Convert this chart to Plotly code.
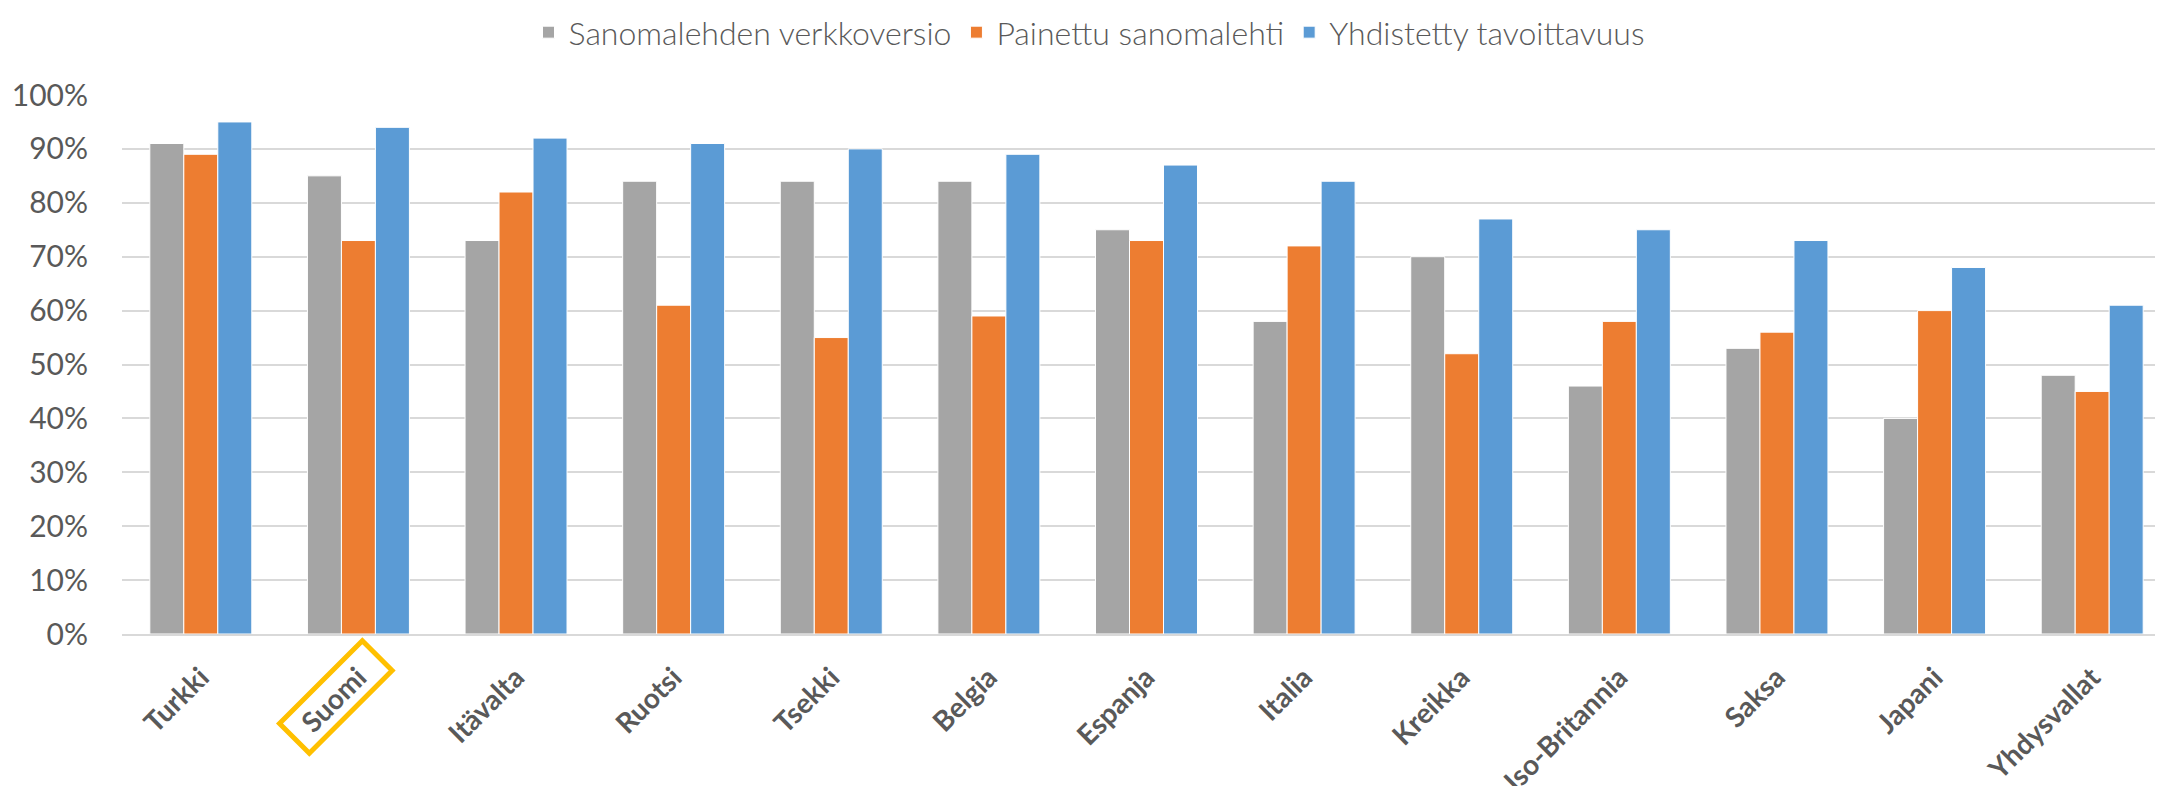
import plotly.graph_objects as go

countries = [
    "Turkki", "Suomi", "Itävalta", "Ruotsi", "Tsekki", "Belgia", "Espanja",
    "Italia", "Kreikka", "Iso-Britannia", "Saksa", "Japani", "Yhdysvallat",
]
online = [0.91, 0.85, 0.73, 0.84, 0.84, 0.84, 0.75, 0.58, 0.70, 0.46, 0.53, 0.40, 0.48]
printed = [0.89, 0.73, 0.82, 0.61, 0.55, 0.59, 0.73, 0.72, 0.52, 0.58, 0.56, 0.60, 0.45]
combined = [0.95, 0.94, 0.92, 0.91, 0.90, 0.89, 0.87, 0.84, 0.77, 0.75, 0.73, 0.68, 0.61]

series = [
    ("Sanomalehden verkkoversio", online, "#A5A5A5"),
    ("Painettu sanomalehti", printed, "#ED7D31"),
    ("Yhdistetty tavoittavuus", combined, "#5B9BD5"),
]
highlight = "Suomi"

_TEXT = "#595959"
_GRID = "#D9D9D9"

fig = go.Figure()
for name, vals, color in series:
    fig.add_trace(
        go.Bar(
            x=countries,
            y=vals,
            name=name,
            marker=dict(color=color, line=dict(color="white", width=1)),
        )
    )

fig.update_layout(
    width=2163,
    height=786,
    barmode="group",
    bargap=0.353,
    bargroupgap=0,
    paper_bgcolor="white",
    plot_bgcolor="white",
    font=dict(family="Lato, Open Sans, sans-serif", color=_TEXT),
    margin=dict(l=114, r=0, t=87, b=160, autoexpand=False),
    legend=dict(
        orientation="h",
        xref="container",
        x=0.5,
        xanchor="center",
        yref="container",
        y=0.969,
        yanchor="middle",
        font=dict(size=32, color=_TEXT, weight=300),
    ),
)
fig.update_yaxes(
    range=[0, 1],
    dtick=0.1,
    tickformat=".0%",
    gridcolor=_GRID,
    gridwidth=2,
    zeroline=False,
    showline=False,
    ticks="",
    ticklabelstandoff=33,
    tickfont=dict(size=30, color=_TEXT),
)
fig.update_xaxes(
    tickangle=-45,
    showline=True,
    linecolor=_GRID,
    linewidth=2,
    ticks="",
    ticklabelstandoff=14,
    tickfont=dict(size=28, color=_TEXT, weight="bold"),
)

# yellow frame round the highlighted country's label
hx = (countries.index(highlight) + 0.5) / len(countries)
fig.add_shape(
    type="path",
    xref="paper",
    yref="paper",
    xsizemode="pixel",
    ysizemode="pixel",
    xanchor=hx,
    yanchor=0,
    path="M 33.7,-36.5 L 3.9,-6.7 L -78.9,-89.5 L -49.1,-119.3 Z",
    line=dict(color="#FFC000", width=5),
)

fig.write_html("out.html")
